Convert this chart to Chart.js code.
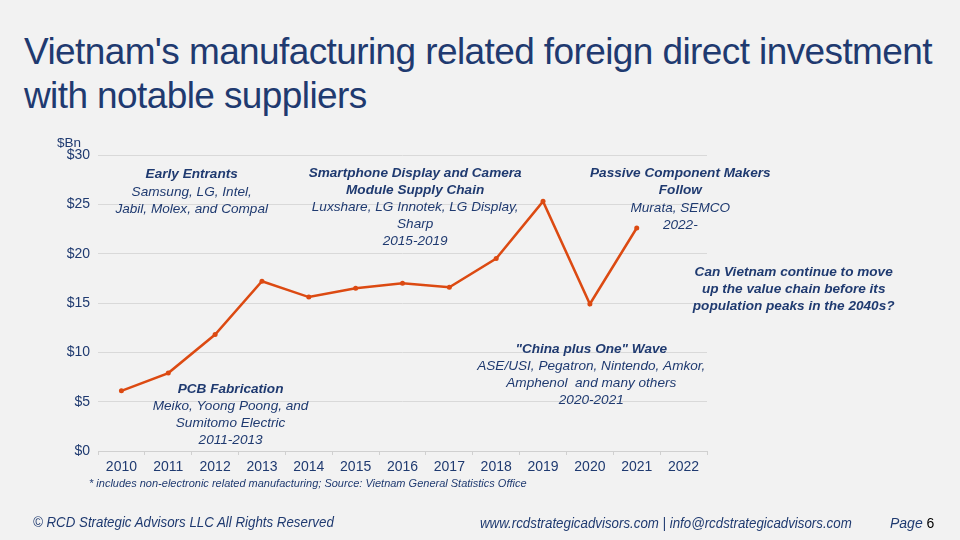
<!DOCTYPE html>
<html>
<head>
<meta charset="utf-8">
<script src="https://cdn.jsdelivr.net/npm/chart.js@4"></script>
<style>
  html, body { margin: 0; padding: 0; background: #f2f2f2; }
  body { width: 960px; height: 540px; position: relative; overflow: hidden;
         font-family: "Liberation Sans", Arial, sans-serif; color: #1f3a70; }
  #title { position: absolute; left: 24px; top: 30px; font-size: 37px; line-height: 44px;
           letter-spacing: -0.6px; color: #1f3a70; }
  #chartBox { position: absolute; left: 0; top: 0; width: 960px; height: 540px; }
  .foot { position: absolute; font-style: italic; font-size: 14px; color: #1f3a70;
          white-space: nowrap; transform-origin: left top; transform: scaleX(0.95); }
  #note { left: 89px; top: 477px; font-size: 11px; transform: none; }
  #copy { left: 33px; top: 514px; }
  #web { left: 480px; top: 515px; }
  #page { left: 890px; top: 515px; transform: none; }
  #page b { font-style: normal; color: #000; font-weight: normal; }
</style>
</head>
<body>
<div id="title">Vietnam's manufacturing related foreign direct investment<br>with notable suppliers</div>
<div id="chartBox"><canvas id="fdiChart" width="960" height="540"></canvas></div>
<div class="foot" id="note">* includes non-electronic related manufacturing; Source: Vietnam General Statistics Office</div>
<div class="foot" id="copy">© RCD Strategic Advisors LLC All Rights Reserved</div>
<div class="foot" id="web">www.rcdstrategicadvisors.com | info@rcdstrategicadvisors.com</div>
<div class="foot" id="page">Page <b>6</b></div>

<script>
/* =========================
   DATA
========================= */
const years = ['2010', '2011', '2012', '2013', '2014', '2015', '2016',
               '2017', '2018', '2019', '2020', '2021', '2022'];
const fdiValues = [6.1, 7.9, 11.8, 17.2, 15.6, 16.5, 17.0, 16.6, 19.5, 25.3, 14.9, 22.6, null];
const yTicks = [0, 5, 10, 15, 20, 25, 30];

// annotation blocks, anchored at (category index, $Bn value) of the first line
const noteTitles = [
    ['Early Entrants'],
    ['PCB Fabrication'],
    ['Smartphone Display and Camera', 'Module Supply Chain'],
    ['"China plus One" Wave'],
    ['Passive Component Makers', 'Follow'],
    ['Can Vietnam continue to move', 'up the value chain before its', 'population peaks in the 2040s?']
];
const noteBodies = [
    ['Samsung, LG, Intel,', 'Jabil, Molex, and Compal'],
    ['Meiko, Yoong Poong, and', 'Sumitomo Electric', '2011-2013'],
    ['Luxshare, LG Innotek, LG Display,', 'Sharp', '2015-2019'],
    ['ASE/USI, Pegatron, Nintendo, Amkor,', 'Amphenol  and many others', '2020-2021'],
    ['Murata, SEMCO', '2022-'],
    []
];
const noteAnchors = [[1.5, 28.0], [2.33, 6.3], [6.27, 28.2], [10.03, 10.3], [11.93, 28.1], [14.35, 18.1]];

const NAVY = '#1f3a70';
const LINE = '#dc4a12';
const FONT = '"Liberation Sans", Arial, sans-serif';

/* =========================
   ANNOTATION PLUGIN
========================= */
const notesPlugin = {
    id: 'notes',
    afterDraw(chart) {
        const ctx = chart.ctx;
        const xs = chart.scales.x, ys = chart.scales.y;
        const step = xs.getPixelForValue(1) - xs.getPixelForValue(0);
        ctx.save();
        ctx.fillStyle = NAVY;
        ctx.textAlign = 'center';
        ctx.textBaseline = 'middle';
        noteAnchors.forEach((a, i) => {
            const cx = xs.getPixelForValue(0) + a[0] * step;
            let y = ys.getPixelForValue(a[1]);
            ctx.font = 'italic bold 13.6px ' + FONT;
            noteTitles[i].forEach(t => { ctx.fillText(t, cx, y); y += 17; });
            ctx.font = 'italic 13.6px ' + FONT;
            noteBodies[i].forEach(t => { ctx.fillText(t, cx, y); y += 17; });
        });
        // unit label
        ctx.font = '13.5px ' + FONT;
        ctx.textAlign = 'left';
        ctx.fillText('$Bn', 57, ys.getPixelForValue(30) - 12);
        ctx.restore();
    }
};

/* =========================
   CHART
========================= */
function renderChart() {
    const ctx = document.getElementById('fdiChart').getContext('2d');
    new Chart(ctx, {
        type: 'line',
        data: {
            labels: years,
            datasets: [{
                data: fdiValues,
                borderColor: LINE,
                backgroundColor: LINE,
                borderWidth: 2.5,
                pointRadius: 2.5,
                pointBorderWidth: 0,
                tension: 0
            }]
        },
        options: {
            responsive: false,
            animation: false,
            layout: { padding: { left: 0, top: 155, right: 253, bottom: 0 } },
            plugins: { legend: { display: false }, tooltip: { enabled: false } },
            scales: {
                x: {
                    offset: true,
                    grid: { display: true, drawOnChartArea: false, offset: true,
                            color: '#d0d0d0', tickLength: 4 },
                    border: { display: true, color: '#d0d0d0' },
                    ticks: { color: NAVY, font: { family: FONT, size: 14 }, padding: 4,
                             maxRotation: 0, autoSkip: false },
                    afterFit(scale) { scale.height = 89; }
                },
                y: {
                    min: 0, max: 30,
                    afterBuildTicks(scale) { scale.ticks = yTicks.map(v => ({ value: v })); },
                    grid: { color: '#d9d9d9', drawTicks: false },
                    border: { display: false },
                    ticks: { color: NAVY, font: { family: FONT, size: 14 }, padding: 8,
                             callback: v => '$' + v },
                    afterFit(scale) { scale.width = 98; }
                }
            }
        },
        plugins: [notesPlugin]
    });
}

document.addEventListener('DOMContentLoaded', renderChart);
</script>
</body>
</html>
